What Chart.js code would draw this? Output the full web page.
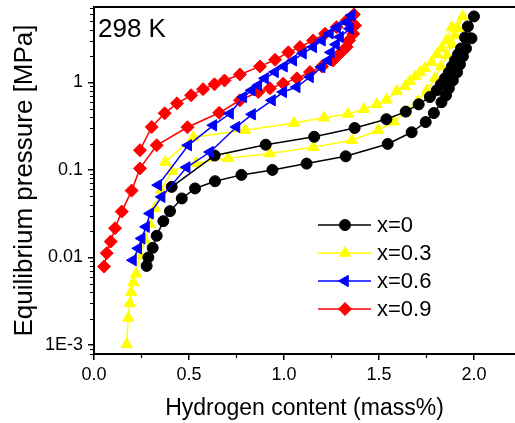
<!DOCTYPE html>
<html>
<head>
<meta charset="utf-8">
<script src="https://cdn.jsdelivr.net/npm/chart.js@4.4.0/dist/chart.umd.min.js"></script>
<style>
  html, body { margin: 0; padding: 0; background: #fff; }
</style>
</head>
<body>
<canvas id="pct" width="515" height="423"></canvas>
<script>
// DATA (absorption branch, then desorption branch)
const massX0 = [0.409,0.635,0.904,1.159,1.372,1.539,1.641,1.709,1.768,1.804,1.826,1.847,1.868,1.884,1.900,1.916,1.932,1.953,2.000,
  1.968,1.987,1.958,1.942,1.926,1.911,1.889,1.868,1.853,1.829,1.789,1.746,1.672,1.546,1.325,1.119,0.939,0.776,0.637,0.532,0.462,0.400,0.365,0.330,0.309,0.286,0.277];
const presX0 = [0.064,0.146,0.194,0.239,0.301,0.379,0.463,0.561,0.680,0.81,0.949,1.11,1.30,1.52,1.78,2.09,2.44,3.26,5.66,
  4.35,3.18,2.44,1.98,1.60,1.30,1.05,0.855,0.711,0.592,0.446,0.352,0.269,0.198,0.143,0.118,0.100,0.0877,0.0743,0.0614,0.0472,0.0338,0.026,0.0177,0.0129,0.0100,0.0080];

const massX3 = [0.374,0.523,0.795,1.053,1.211,1.337,1.421,1.488,1.539,1.593,1.637,1.663,1.692,1.716,1.742,1.777,1.804,1.830,1.856,1.883,1.941,
  1.916,1.900,1.884,1.858,1.826,1.795,1.753,1.705,1.637,1.579,1.496,1.358,1.154,0.926,0.705,0.537,0.411,0.353,0.321,0.295,0.268,0.242,0.221,0.207,0.195,0.189,0.180,0.172];
const presX3 = [0.1225,0.236,0.284,0.343,0.394,0.435,0.492,0.561,0.631,0.79,0.90,1.03,1.17,1.30,1.44,1.70,2.09,2.44,3.01,4.24,5.66,
  4.13,3.44,2.71,2.03,1.52,1.11,0.81,0.607,0.455,0.355,0.284,0.218,0.182,0.154,0.136,0.119,0.0966,0.0587,0.0366,0.024,0.0158,0.0106,0.0065,0.0052,0.0040,0.0030,0.00204,0.00102];

const massX6 = [0.338,0.496,0.628,0.716,0.786,0.830,0.865,0.900,0.953,1.000,1.049,1.100,1.154,1.200,1.242,1.279,1.330,1.356,
  1.347,1.295,1.274,1.247,1.233,1.198,1.137,1.067,0.996,0.937,0.832,0.750,0.611,0.488,0.356,0.295,0.274,0.251,0.233,0.205];
const presX6 = [0.067,0.191,0.323,0.440,0.680,0.811,0.924,1.11,1.31,1.52,1.78,2.14,2.53,3.01,3.62,4.24,4.87,5.81,
  4.10,3.29,2.71,2.20,1.78,1.49,1.15,0.884,0.775,0.624,0.431,0.309,0.160,0.107,0.0492,0.0318,0.0224,0.0165,0.0127,0.0093];

const massX9 = [0.242,0.304,0.372,0.437,0.511,0.574,0.634,0.687,0.768,0.874,0.953,1.023,1.084,1.153,1.216,1.277,1.330,1.368,
  1.374,1.365,1.342,1.330,1.295,1.259,1.200,1.137,1.068,0.996,0.926,0.865,0.768,0.659,0.492,0.330,0.242,0.198,0.146,0.111,0.088,0.067,0.053];
const presX9 = [0.168,0.309,0.443,0.576,0.711,0.836,0.949,1.05,1.23,1.52,1.81,2.20,2.53,3.01,3.59,4.27,5.09,5.96,
  4.47,3.59,3.01,2.53,2.14,1.78,1.52,1.31,1.11,0.967,0.855,0.775,0.624,0.449,0.307,0.191,0.104,0.058,0.0334,0.0216,0.0152,0.0112,0.00787];

const seriesNames = ['x=0', 'x=0.3', 'x=0.6', 'x=0.9'];
const xTicks = [0, 0.5, 1.0, 1.5, 2.0];
const yTicks = [0.001, 0.01, 0.1, 1];
const yTickLabels = ['1E-3', '0.01', '0.1', '1'];

const FONT = "'Liberation Sans', Arial, sans-serif";
const pts = (xs, ys) => xs.map((v, i) => ({x: v, y: ys[i]}));

const styles = [
  {color: '#000000', pointStyle: 'circle',   radius: 5.5, rotation: 0,   order: 1},
  {color: '#ffff00', pointStyle: 'triangle', radius: 6.5, rotation: 0,   order: 2},
  {color: '#0000ff', pointStyle: 'triangle', radius: 6.5, rotation: -90, order: 0},
  {color: '#ff0000', pointStyle: 'rectRot',  radius: 6.5, rotation: 0,   order: 3}
];
const allData = [pts(massX0, presX0), pts(massX3, presX3), pts(massX6, presX6), pts(massX9, presX9)];

const datasets = allData.map((d, i) => ({
  label: seriesNames[i],
  data: d,
  showLine: true,
  borderColor: styles[i].color,
  backgroundColor: styles[i].color,
  borderWidth: 1.5,
  pointStyle: styles[i].pointStyle,
  pointRadius: styles[i].radius,
  pointRotation: styles[i].rotation,
  pointBorderWidth: 1,
  pointBackgroundColor: styles[i].color,
  pointBorderColor: styles[i].color,
  order: styles[i].order,
  tension: 0
}));

// frame, minor ticks, annotation and legend
const decor = {
  id: 'decor',
  afterDraw(chart) {
    const {ctx, chartArea: a, scales: {x, y}} = chart;
    ctx.save();
    ctx.strokeStyle = '#000';
    ctx.lineWidth = 2;
    ctx.beginPath();
    ctx.moveTo(a.left - 1, a.top);
    ctx.lineTo(a.right, a.top);
    ctx.stroke();

    ctx.lineWidth = 1.2;
    ctx.beginPath();
    for (let v = 0.25; v < x.max; v += 0.5) {
      const px = Math.round(x.getPixelForValue(v)) + 0.5;
      ctx.moveTo(px, a.bottom);
      ctx.lineTo(px, a.bottom + 4);
    }
    for (let e = -4; e <= 1; e++) {
      for (let m = 2; m <= 9; m++) {
        const v = m * Math.pow(10, e);
        if (v < y.min || v > y.max) continue;
        const py = Math.round(y.getPixelForValue(v)) + 0.5;
        ctx.moveTo(a.left, py);
        ctx.lineTo(a.left - 4, py);
      }
    }
    ctx.stroke();

    ctx.fillStyle = '#000';
    ctx.font = '26px ' + FONT;
    ctx.textBaseline = 'alphabetic';
    ctx.textAlign = 'left';
    ctx.fillText('298 K', 98, 37);

    ctx.font = '22px ' + FONT;
    ctx.textBaseline = 'middle';
    seriesNames.forEach((name, i) => {
      const ly = 225 + i * 28;
      const s = styles[i];
      ctx.strokeStyle = s.color;
      ctx.lineWidth = 1.5;
      ctx.beginPath();
      ctx.moveTo(318, ly);
      ctx.lineTo(371, ly);
      ctx.stroke();
      ctx.fillStyle = s.color;
      ctx.strokeStyle = s.color;
      ctx.lineWidth = 1;
      Chart.helpers.drawPoint(ctx, {pointStyle: s.pointStyle, radius: s.radius, rotation: s.rotation, borderWidth: 1}, 345, ly);
      ctx.fillStyle = '#000';
      ctx.fillText(name, 377, ly + 1);
    });
    ctx.restore();
  }
};

new Chart(document.getElementById('pct'), {
  type: 'scatter',
  data: {datasets},
  options: {
    responsive: false,
    animation: false,
    devicePixelRatio: 1,
    layout: {autoPadding: false, padding: {top: 7, right: 0, bottom: 0, left: 0}},
    plugins: {legend: {display: false}, tooltip: {enabled: false}},
    scales: {
      x: {
        type: 'linear',
        min: 0,
        max: 2.216,
        afterBuildTicks: s => { s.ticks = xTicks.map(v => ({value: v})); },
        afterFit: s => { s.height = 69; s.paddingLeft = 0; s.paddingRight = 0; },
        grid: {display: true, drawOnChartArea: false, drawTicks: true, tickLength: 6, color: '#000', lineWidth: 1.5},
        border: {display: true, color: '#000', width: 2},
        ticks: {padding: 4, color: '#000', autoSkip: false, maxRotation: 0,
          font: {family: FONT, size: 18}, callback: v => v.toFixed(1)},
        title: {display: true, text: 'Hydrogen content (mass%)', color: '#000',
          font: {family: FONT, size: 23}, padding: {top: 0, bottom: 1}}
      },
      y: {
        type: 'logarithmic',
        min: 0.00079,
        max: 7.25,
        afterBuildTicks: s => { s.ticks = yTicks.map(v => ({value: v})); },
        afterFit: s => { s.width = 94; s.paddingTop = 0; s.paddingBottom = 0; },
        grid: {display: true, drawOnChartArea: false, drawTicks: true, tickLength: 6, color: '#000', lineWidth: 1.5},
        border: {display: true, color: '#000', width: 2},
        ticks: {padding: 5, color: '#000', autoSkip: false,
          font: {family: FONT, size: 18}, callback: (v, i) => yTickLabels[i]},
        title: {display: true, text: 'Equilibrium pressure [MPa]', color: '#000',
          font: {family: FONT, size: 26}, padding: {top: 9, bottom: 0}}
      }
    }
  },
  plugins: [decor]
});
</script>
</body>
</html>
